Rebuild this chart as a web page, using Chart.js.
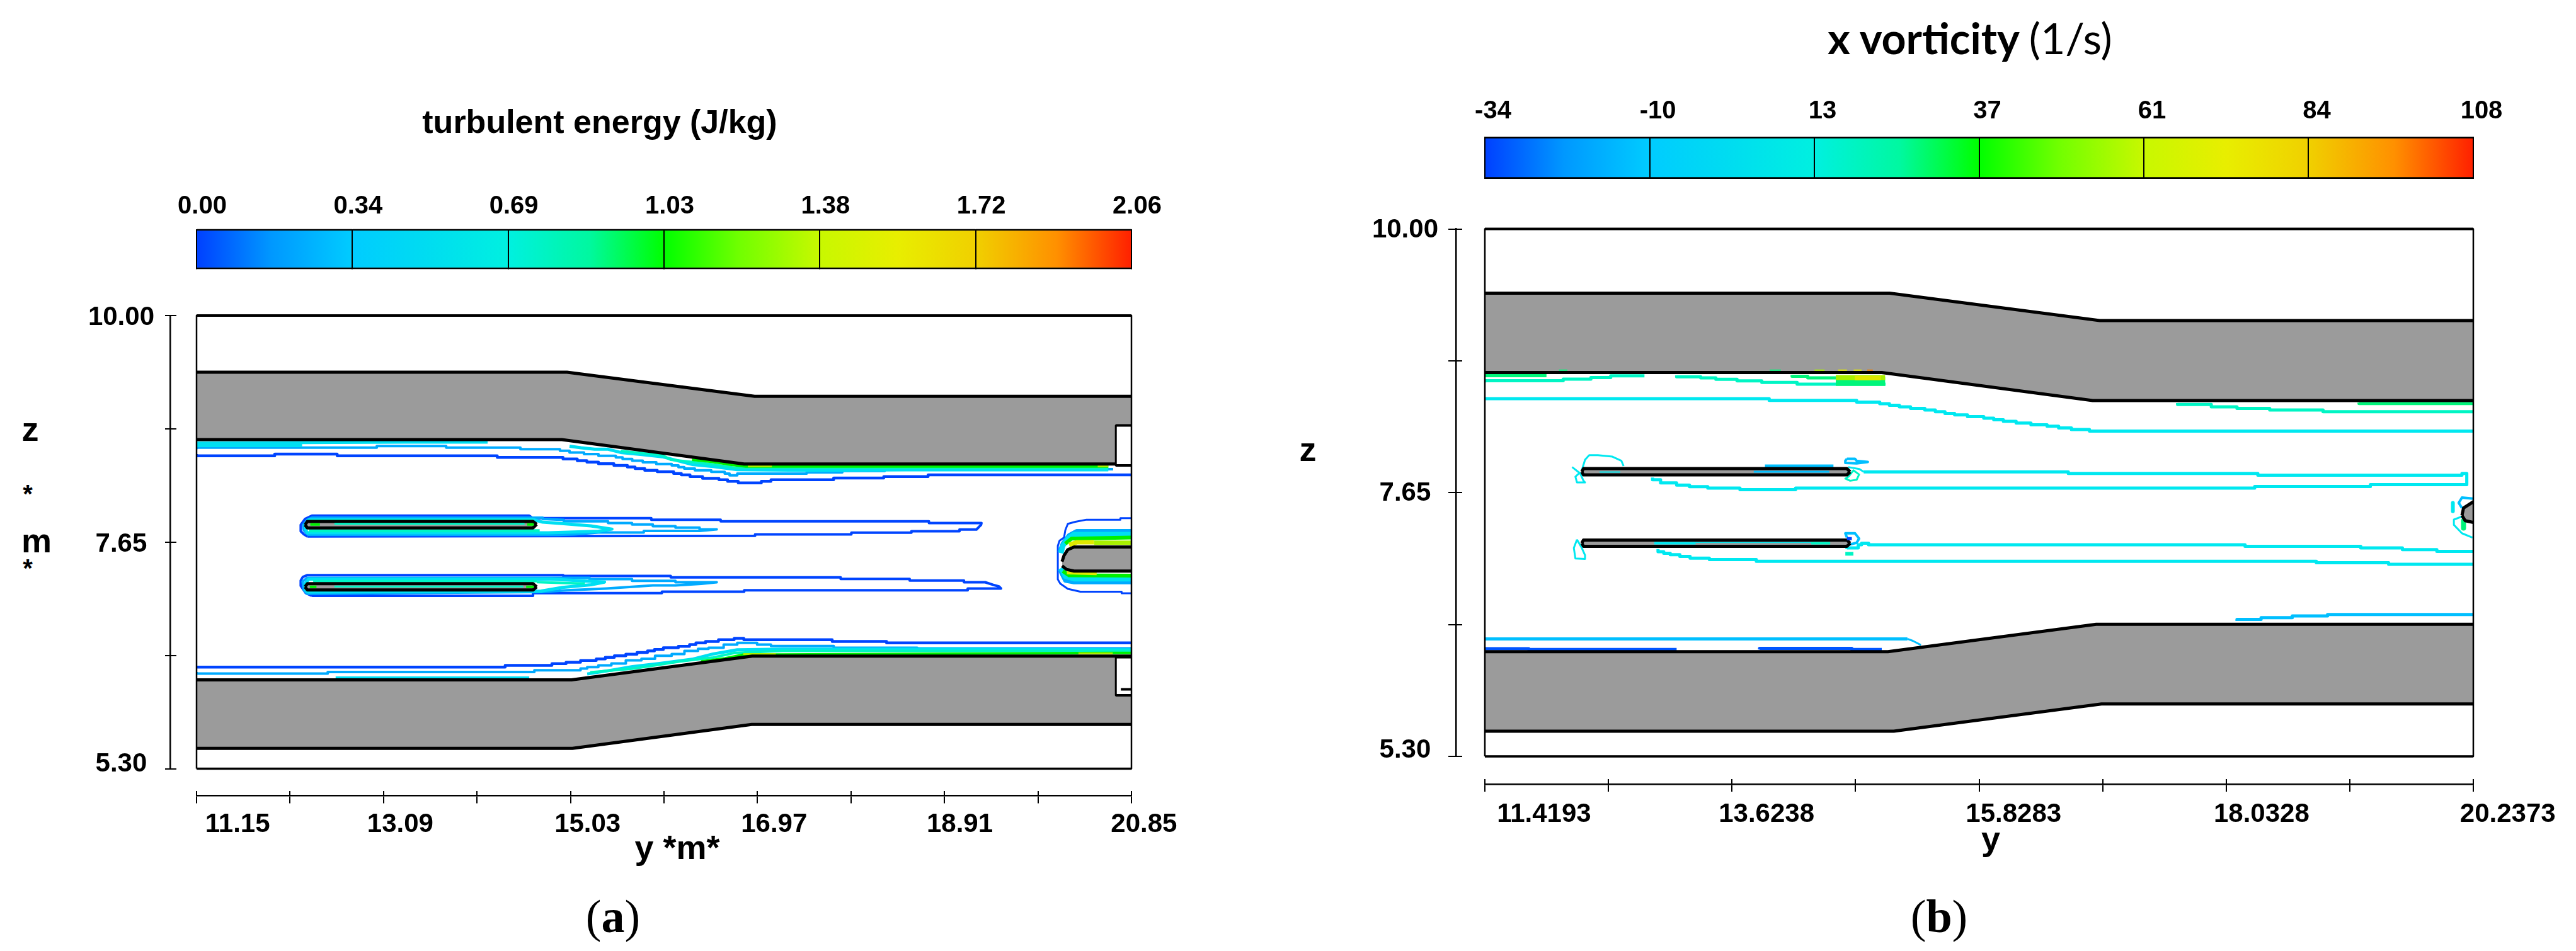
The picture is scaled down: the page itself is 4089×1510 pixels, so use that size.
<!DOCTYPE html>
<html>
<head>
<meta charset="utf-8">
<title>turbulent energy and x vorticity</title>
<script src="https://cdn.jsdelivr.net/npm/chart.js@4"></script>
<style>
  html, body { margin: 0; padding: 0; background: #fff; }
  body { position: relative; width: 4089px; height: 1510px; overflow: hidden; }
  canvas { position: absolute; }
  .t { position: absolute; transform: translate(-50%, -50%); white-space: nowrap; color: #000;
       font-family: "Liberation Sans", sans-serif; font-weight: bold; line-height: 1; }
  .cap { font-family: "Liberation Serif", serif; font-weight: normal; font-size: 74px; }
  .tb { font-family: Lato, sans-serif; font-size: 68px; }
  .tb span { font-weight: normal; }
</style>
</head>
<body>
<div class="t" style="left:952px;top:193px;font-size:52px">turbulent energy (J/kg)</div>
<div class="t tb" style="left:3127px;top:60px">x vorticity <span>(1/s)</span></div>
<div class="t" style="left:48px;top:681px;font-size:54px">z</div>
<div class="t" style="left:44px;top:784px;font-size:40px">*</div>
<div class="t" style="left:58px;top:858px;font-size:54px">m</div>
<div class="t" style="left:44px;top:902px;font-size:40px">*</div>
<div class="t" style="left:1075px;top:1345px;font-size:54px">y *m*</div>
<div class="t" style="left:2076px;top:713px;font-size:54px">z</div>
<div class="t" style="left:3160px;top:1331px;font-size:54px">y</div>
<div class="t cap" style="left:973px;top:1455px">(<b>a</b>)</div>
<div class="t cap" style="left:3078px;top:1455px">(<b>b</b>)</div>

<canvas id="barA" style="left:0;top:260px"></canvas>
<canvas id="plotA" style="left:0;top:440px"></canvas>
<canvas id="barB" style="left:2050px;top:100px"></canvas>
<canvas id="plotB" style="left:2050px;top:300px"></canvas>

<script>
// colour bars
const barTicksA = [0, 0.3433, 0.6867, 1.03, 1.3733, 1.7167, 2.06];
const barLabelsA = ['0.00', '0.34', '0.69', '1.03', '1.38', '1.72', '2.06'];
const barTicksB = [-34, -10.33, 13.33, 37, 60.67, 84.33, 108];
const barLabelsB = ['-34', '-10', '13', '37', '61', '84', '108'];

// panel a axes
const xTicksA = [11.15, 12.12, 13.09, 14.06, 15.03, 16.0, 16.97, 17.94, 18.91, 19.88, 20.85];
const xLabelAtA = [11.576, 13.264, 15.207, 17.142, 19.069, 20.98];
const xLabelsA = ['11.15', '13.09', '15.03', '16.97', '18.91', '20.85'];
const yTicks = [5.3, 6.475, 7.65, 8.825, 10];
const yLabelAtA = [5.35, 7.625, 9.978];
const yLabels = ['5.30', '7.65', '10.00'];

// panel a geometry
const aUpperTop = [[11.15, 9.412], [14.994, 9.412], [16.94, 9.163], [20.85, 9.163]];
const aUpperBottom = [[11.15, 8.713], [14.94, 8.713], [16.83, 8.46], [20.85, 8.46]];
const aLowerTop = [[11.15, 6.222], [15.04, 6.222], [16.916, 6.468], [20.85, 6.468]];
const aLowerBottom = [[11.15, 5.511], [15.05, 5.511], [16.91, 5.759], [20.85, 5.759]];
const aNotchUpTop = [[20.688, 8.861], [20.85, 8.861]];
const aNotchUpBottom = [[20.688, 8.446], [20.85, 8.446]];
const aNotchLowTop = [[20.688, 6.457], [20.85, 6.457]];
const aNotchLowBottom = [[20.688, 6.061], [20.85, 6.061]];
const aNotchStub = [[20.74, 6.124], [20.85, 6.124]];
const aSplitUpTop = [[12.275, 7.829], [12.3, 7.864], [14.641, 7.864], [14.679, 7.835]];
const aSplitUpBottom = [[12.275, 7.829], [12.3, 7.798], [14.641, 7.798], [14.679, 7.835]];
const aSplitLowTop = [[12.275, 7.186], [12.3, 7.219], [14.641, 7.219], [14.679, 7.186]];
const aSplitLowBottom = [[12.275, 7.186], [12.3, 7.154], [14.641, 7.154], [14.679, 7.186]];
const aBodyTop = [[20.13, 7.448], [20.151, 7.513], [20.19, 7.572], [20.255, 7.6], [20.85, 7.6]];
const aBodyBottom = [[20.13, 7.404], [20.177, 7.367], [20.255, 7.35], [20.85, 7.35]];

// panel a contours, upper wall
const aTopBlue = [[11.15, 8.563], [11.961, 8.545], [12.609, 8.563], [14.27, 8.545], [14.952, 8.528], [15.1, 8.513], [15.2, 8.495], [15.32, 8.48], [15.48, 8.463], [15.62, 8.445], [15.7, 8.43], [15.8, 8.413], [15.93, 8.395], [16.1, 8.38], [16.18, 8.362], [16.27, 8.347], [16.4, 8.33], [16.57, 8.312], [16.66, 8.297], [16.77, 8.28], [17.01, 8.264], [17.11, 8.28], [17.76, 8.297], [18.28, 8.315], [18.74, 8.33], [20.06, 8.347], [20.85, 8.347]];
const aTopSky = [[11.15, 8.613], [13.02, 8.63], [13.74, 8.646], [14.51, 8.63], [14.92, 8.613], [15.02, 8.598], [15.17, 8.58], [15.32, 8.563], [15.5, 8.545], [15.57, 8.528], [15.67, 8.513], [15.78, 8.495], [15.92, 8.478], [16.08, 8.46], [16.15, 8.445], [16.21, 8.428], [16.32, 8.413], [16.49, 8.395], [16.63, 8.378], [16.68, 8.36], [16.76, 8.343], [17.48, 8.36], [17.85, 8.373], [18.29, 8.388], [20.61, 8.406], [20.66, 8.406]];
const aTopCyan1 = [[11.15, 8.678], [13.31, 8.687], [14.17, 8.687]];
const aTopCyan2 = [[11.15, 8.652], [12.245, 8.652]];
const aTopCyan3 = [[15.02, 8.645], [15.14, 8.628], [15.28, 8.613], [15.42, 8.613], [15.55, 8.58], [15.77, 8.558], [15.98, 8.536], [16.29, 8.456], [16.51, 8.434], [16.76, 8.402], [17.48, 8.395], [18.51, 8.399], [20.61, 8.399]];
const aTopSpring = [[15.55, 8.595], [15.77, 8.573], [15.98, 8.552], [16.07, 8.504], [16.29, 8.482], [16.51, 8.456], [16.73, 8.421], [20.61, 8.417]];
const aTopGreen = [[16.29, 8.504], [16.51, 8.482], [16.67, 8.456], [16.85, 8.434], [20.61, 8.434]];
const aTopLime1 = [[16.87, 8.436], [17.12, 8.436]];
const aTopLime2 = [[20.5, 8.436], [20.61, 8.436]];

// panel a contours, lower wall
const aLowBlue = [[11.15, 6.339], [14.352, 6.354], [14.837, 6.372], [14.984, 6.389], [15.134, 6.405], [15.297, 6.422], [15.391, 6.439], [15.485, 6.455], [15.604, 6.472], [15.72, 6.487], [15.829, 6.505], [15.901, 6.522], [15.993, 6.537], [16.149, 6.555], [16.265, 6.57], [16.331, 6.587], [16.431, 6.605], [16.565, 6.62], [16.728, 6.638], [16.828, 6.653], [17.745, 6.638], [18.309, 6.62], [19.89, 6.605], [20.85, 6.605]];
const aLowSky = [[11.15, 6.304], [12.511, 6.287], [14.655, 6.304], [15.134, 6.322], [15.203, 6.339], [15.319, 6.354], [15.454, 6.372], [15.604, 6.391], [15.766, 6.424], [15.907, 6.44], [16.08, 6.472], [16.212, 6.49], [16.353, 6.522], [16.462, 6.544], [16.619, 6.555], [16.76, 6.587], [16.966, 6.605], [17.11, 6.587], [17.761, 6.572], [18.628, 6.555], [19.029, 6.548], [20.85, 6.548]];
const aLowCyan1 = [[12.593, 6.248], [14.602, 6.248]];
const aLowCyan2 = [[15.203, 6.283], [15.454, 6.322], [15.672, 6.359], [15.954, 6.391], [16.29, 6.435], [16.509, 6.49], [16.76, 6.533], [17.229, 6.54], [19.107, 6.54], [20.85, 6.533]];
const aLowSpring = [[15.234, 6.3], [15.672, 6.337], [15.892, 6.37], [16.165, 6.413], [16.509, 6.453], [16.728, 6.5], [17.229, 6.522], [20.85, 6.522]];
const aLowGreen = [[16.384, 6.413], [16.634, 6.446], [16.822, 6.483], [20.656, 6.5], [20.85, 6.5]];
const aLowLime1 = [[16.822, 6.49], [17.16, 6.49]];
const aLowLime2 = [[20.3, 6.496], [20.656, 6.496]];

// panel a contours, splitters
const aUpBlue = [[12.3, 7.709], [12.263, 7.731], [12.231, 7.763], [12.231, 7.829], [12.275, 7.89], [12.347, 7.925], [14.6, 7.925], [14.641, 7.898], [15.868, 7.898], [15.868, 7.883], [16.588, 7.883], [16.588, 7.866], [18.749, 7.866], [18.749, 7.848], [19.294, 7.848], [19.289, 7.829], [19.242, 7.781], [19.066, 7.781], [19.066, 7.763], [18.567, 7.763], [18.567, 7.748], [17.944, 7.748], [17.944, 7.731], [16.945, 7.731], [16.945, 7.716], [12.3, 7.709]];
const aUpSky = [[12.3, 7.731], [12.263, 7.774], [12.256, 7.829], [12.3, 7.883], [12.347, 7.903], [14.741, 7.903], [14.741, 7.89], [14.96, 7.881], [14.96, 7.866], [15.42, 7.866], [15.42, 7.848], [15.668, 7.848], [15.668, 7.833], [15.884, 7.833], [15.884, 7.816], [16.119, 7.816], [16.119, 7.8], [16.369, 7.8], [16.369, 7.783], [16.547, 7.783], [16.369, 7.766], [15.79, 7.766], [15.79, 7.75], [15.32, 7.75], [15.07, 7.731], [14.9, 7.726], [12.3, 7.726]];
const aUpCyan = [[12.284, 7.774], [12.275, 7.829], [12.316, 7.881], [14.641, 7.885], [14.741, 7.857], [14.96, 7.842], [15.24, 7.818], [15.46, 7.785], [15.32, 7.763], [14.8, 7.746], [12.3, 7.746], [12.284, 7.774]];
const aUpSpring1 = [[12.316, 7.877], [14.641, 7.877]];
const aUpSpring2 = [[12.316, 7.768], [14.71, 7.768]];
const aLoBlue = [[12.347, 7.093], [14.641, 7.093], [14.641, 7.121], [15.978, 7.121], [15.978, 7.136], [16.832, 7.136], [16.832, 7.151], [19.151, 7.151], [19.151, 7.169], [19.497, 7.169], [19.476, 7.191], [19.411, 7.208], [19.333, 7.234], [19.112, 7.234], [19.112, 7.252], [18.549, 7.252], [18.549, 7.269], [17.833, 7.269], [17.833, 7.284], [16.07, 7.284], [16.07, 7.3], [14.954, 7.3], [14.954, 7.308], [12.3, 7.308], [12.253, 7.289], [12.231, 7.252], [12.231, 7.197], [12.284, 7.121], [12.347, 7.093]];
const aLoSky = [[12.3, 7.11], [12.263, 7.154], [12.25, 7.241], [12.3, 7.28], [15.227, 7.28], [15.227, 7.267], [15.668, 7.267], [15.668, 7.249], [16.119, 7.249], [16.119, 7.234], [16.547, 7.234], [16.385, 7.217], [16.119, 7.202], [15.884, 7.202], [15.668, 7.186], [15.4, 7.169], [14.992, 7.151], [14.726, 7.132], [12.3, 7.114]];
const aLoCyan = [[12.284, 7.143], [12.275, 7.219], [12.316, 7.267], [14.82, 7.267], [15.383, 7.236], [15.242, 7.208], [14.945, 7.18], [14.726, 7.143], [12.316, 7.132], [12.284, 7.143]];
const aLoSpring1 = [[12.36, 7.245], [14.68, 7.245]];
const aLoSpring2 = [[14.68, 7.236], [15.18, 7.219]];
const aSplitInnerUp = [[12.58, 7.84], [14.553, 7.84]];
const aSplitInnerLow = [[12.58, 7.19], [14.54, 7.19]];
const aSplitEnds = [[[12.33, 7.833], [12.43, 7.833]], [[14.58, 7.833], [14.65, 7.833]], [[12.325, 7.186], [12.394, 7.186]], [[14.57, 7.186], [14.65, 7.186]]];

// panel a contours, centre body
const aBodyBlue = [[20.85, 7.898], [20.735, 7.898], [20.735, 7.883], [20.384, 7.883], [20.268, 7.861], [20.19, 7.84], [20.164, 7.774], [20.151, 7.698], [20.104, 7.665], [20.086, 7.611], [20.086, 7.263], [20.112, 7.219], [20.19, 7.165], [20.32, 7.136], [20.748, 7.136], [20.748, 7.119], [20.85, 7.119]];
const aBodySkyTop = [[20.85, 7.763], [20.281, 7.763], [20.203, 7.72], [20.138, 7.633], [20.104, 7.546]];
const aBodySkyBottom = [[20.104, 7.371], [20.164, 7.252], [20.255, 7.236], [20.85, 7.236]];
const aBodyCyanTop = [[20.85, 7.731], [20.255, 7.731], [20.19, 7.687], [20.138, 7.611], [20.12, 7.535]];
const aBodyCyanBottom = [[20.12, 7.382], [20.164, 7.295], [20.255, 7.269], [20.85, 7.269]];
const aBodyGreenTop = [[20.85, 7.698], [20.229, 7.687], [20.164, 7.633]];
const aBodyGreenBottom = [[20.138, 7.35], [20.203, 7.306], [20.85, 7.302]];
const aBodyLimeTop = [[20.462, 7.644], [20.85, 7.644]];
const aBodyYellowTop = [[20.203, 7.622], [20.281, 7.648], [20.462, 7.648]];
const aBodyYellowBottom = [[20.18, 7.332], [20.489, 7.323]];

// panel b axes
const xTicksB = [11.4193, 12.5216, 13.6238, 14.7261, 15.8283, 16.9306, 18.0328, 19.1351, 20.2373];
const xLabelAtB = [11.947, 13.932, 16.136, 18.348, 20.545];
const xLabelsB = ['11.4193', '13.6238', '15.8283', '18.0328', '20.2373'];
const yLabelAtB = [5.351, 7.643, 9.992];

// panel b geometry
const bUpperTop = [[11.4193, 9.427], [15.03, 9.427], [16.905, 9.184], [20.2373, 9.184]];
const bUpperBottom = [[11.4193, 8.72], [14.96, 8.72], [16.842, 8.471], [20.2373, 8.471]];
const bLowerTop = [[11.4193, 6.233], [15.015, 6.233], [16.873, 6.477], [20.2373, 6.477]];
const bLowerBottom = [[11.4193, 5.524], [15.067, 5.524], [16.92, 5.767], [20.2373, 5.767]];
const bSplitUpTop = [[12.284, 7.836], [12.299, 7.864], [14.649, 7.864], [14.678, 7.836]];
const bSplitUpBottom = [[12.284, 7.836], [12.299, 7.808], [14.649, 7.808], [14.678, 7.836]];
const bSplitLowTop = [[12.284, 7.2], [12.299, 7.228], [14.649, 7.228], [14.678, 7.2]];
const bSplitLowBottom = [[12.284, 7.2], [12.299, 7.172], [14.649, 7.172], [14.678, 7.2]];
const bNoseTop = [[20.136, 7.447], [20.15, 7.513], [20.2373, 7.569]];
const bNoseBottom = [[20.136, 7.447], [20.165, 7.4], [20.2373, 7.385]];

// panel b contours
const bCyanTop = [[11.418, 8.502], [13.956, 8.487], [14.736, 8.472], [14.942, 8.457], [15.028, 8.443], [15.117, 8.429], [15.217, 8.414], [15.344, 8.401], [15.438, 8.386], [15.524, 8.371], [15.61, 8.356], [15.725, 8.343], [15.87, 8.328], [15.959, 8.313], [16.045, 8.3], [16.159, 8.285], [16.291, 8.27], [16.435, 8.255], [16.538, 8.242], [16.652, 8.227], [16.813, 8.212], [17.364, 8.199], [20.2373, 8.199]];
const bSpringLeft = [[11.418, 8.632], [12.118, 8.647], [12.365, 8.661], [12.542, 8.676], [12.657, 8.691], [12.843, 8.691]];
const bSpringRight = [[13.13, 8.695], [13.345, 8.682], [13.48, 8.673], [13.669, 8.66], [13.89, 8.646], [14.205, 8.632], [14.549, 8.617], [14.994, 8.617]];
const bGreenTop1 = [[11.418, 8.68], [11.539, 8.692], [11.969, 8.692]];
const bGreenTop2 = [[14.16, 8.7], [14.3, 8.687], [14.5, 8.673], [14.9, 8.673]];
const bBlobGreen = [[14.55, 8.64], [14.99, 8.64]];
const bBlobLime = [[14.55, 8.675], [14.99, 8.675]];
const bBlobYellow = [[14.72, 8.672], [14.95, 8.672]];
const bWallMarkGreen = [[[12.08, 8.742], [12.155, 8.742]], [[13.96, 8.742], [14.06, 8.742]]];
const bWallMarkLime = [[14.36, 8.742], [14.45, 8.742]];
const bWallMarkYellow = [[[14.57, 8.742], [14.65, 8.742]], [[14.71, 8.742], [14.78, 8.742]]];
const bWallMarkOrange = [[14.83, 8.742], [14.88, 8.742]];
const bUpArc = [[12.284, 7.849], [12.313, 7.943], [12.35, 7.984], [12.428, 7.984], [12.557, 7.971], [12.637, 7.934], [12.657, 7.887]];
const bUpHook = [[12.198, 7.878], [12.27, 7.821], [12.299, 7.756], [12.313, 7.741], [12.241, 7.741], [12.227, 7.793], [12.27, 7.831]];
const bUpWake = [[12.915, 7.784], [12.987, 7.765], [13.13, 7.737], [13.245, 7.718], [13.408, 7.703], [13.695, 7.69], [14.191, 7.677], [18.287, 7.69], [19.319, 7.705], [19.984, 7.722], [20.179, 7.722], [20.136, 7.821], [18.315, 7.806], [16.624, 7.821], [15.524, 7.835], [14.799, 7.835]];
const bUpSkyLoop = [[14.649, 7.952], [14.721, 7.952], [14.736, 7.934], [14.836, 7.924], [14.736, 7.911], [14.635, 7.915], [14.635, 7.934], [14.649, 7.952]];
const bUpSpringLoop = [[14.664, 7.793], [14.707, 7.849], [14.758, 7.812], [14.736, 7.765], [14.678, 7.756], [14.635, 7.775], [14.664, 7.793]];
const bUpSkyWall = [[13.918, 7.885], [14.529, 7.885]];
const bUpSkyInner = [[13.818, 7.837], [14.492, 7.837]];
const bUpCyanInner = [[12.442, 7.834], [12.628, 7.834]];
const bUpLink = [[14.66, 7.878], [14.76, 7.86], [14.8, 7.835]];
const bLoHook = [[12.241, 7.232], [12.213, 7.157], [12.227, 7.063], [12.313, 7.06], [12.313, 7.092], [12.284, 7.157], [12.241, 7.232]];
const bLoSkyLoop = [[14.649, 7.251], [14.635, 7.288], [14.721, 7.288], [14.758, 7.241], [14.736, 7.204], [14.664, 7.185]];
const bLoBlueSpeck = [[14.649, 7.241], [14.693, 7.241]];
const bLoWakeTop = [[14.649, 7.148], [14.75, 7.157], [14.78, 7.185], [14.842, 7.2], [18.201, 7.185], [19.233, 7.172], [19.605, 7.157], [19.912, 7.142], [20.084, 7.127], [20.2373, 7.127]];
const bLoWakeBottom = [[12.964, 7.148], [13.015, 7.124], [13.073, 7.11], [13.159, 7.097], [13.25, 7.082], [13.422, 7.067], [13.841, 7.054], [18.837, 7.039], [19.482, 7.026], [19.855, 7.011], [20.2373, 7.011]];
const bLoSpringSpot = [[14.635, 7.105], [14.707, 7.105]];
const bLoCyanInner = [[12.93, 7.2], [13.3, 7.2]];
const bLoCyanThin = [[13.3, 7.205], [14.33, 7.205]];
const bLoSpringInner = [[14.33, 7.2], [14.5, 7.2]];
const bSkyBottom = [[11.418, 6.332], [14.649, 6.347], [15.189, 6.347]];
const bSkyBottomEnd = [[15.189, 6.347], [15.237, 6.33], [15.309, 6.293]];
const bBlueBottom1 = [[11.418, 6.274], [11.811, 6.259], [12.436, 6.252], [13.13, 6.252]];
const bBlueBottom2 = [[13.87, 6.252], [14.693, 6.263], [14.873, 6.252], [14.96, 6.252]];
const bSpringRightTop = [[17.599, 8.448], [17.9, 8.435], [18.129, 8.414], [18.421, 8.401], [18.897, 8.386], [19.648, 8.371], [20.2373, 8.371]];
const bGreenRightTop = [[19.218, 8.452], [19.591, 8.444], [20.2373, 8.444]];
const bSkyRight = [[18.129, 6.506], [18.344, 6.521], [18.622, 6.536], [18.937, 6.551], [19.419, 6.564], [20.2373, 6.564]];
const bNoseSky = [[20.237, 7.597], [20.136, 7.606], [20.107, 7.559], [20.136, 7.513]];
const bNoseCyanSpot = [[20.055, 7.559], [20.055, 7.484]];
const bNoseCyan = [[20.136, 7.438], [20.064, 7.41], [20.064, 7.363], [20.136, 7.288], [20.23, 7.25]];
const bNoseGreen = [[20.15, 7.4], [20.15, 7.335]];

const BLUE = '#0044ff', SKY = '#00aaff', SKY2 = '#00bfff', CYAN = '#00dff2', CYAN2 = '#00e8f0';
const SPRING = '#00f5c4', GREEN = '#00f000', MINT = '#00f57a', LIME = '#a8f000', YELLOW = '#e0e800', ORANGE = '#f08000';
const GREY = '#9b9b9b';
const rainbow = [[0, '#0040ff'], [0.08, '#0098ff'], [1 / 6, '#00ccff'], [0.25, '#00ddf0'], [1 / 3, '#00f0e0'],
  [0.42, '#00f8a0'], [0.5, '#00ff00'], [0.58, '#70ff00'], [2 / 3, '#c8f800'], [0.75, '#e8ee00'],
  [5 / 6, '#f0d000'], [0.92, '#ff9000'], [1, '#ff2000']];

Chart.defaults.font.family = '"Liberation Sans", sans-serif';
Chart.defaults.font.weight = 'bold';

function colorBar(id, w, h, padLeft, padRight, scaleH, padBottom, ticks, labels, shift, labelPad) {
  const canvas = document.getElementById(id);
  canvas.width = w;
  canvas.height = h;
  const fillBar = c => {
    const a = c.chart.chartArea;
    if (!a) return '#000';
    const g = c.chart.ctx.createLinearGradient(a.left, 0, a.right, 0);
    rainbow.forEach(s => g.addColorStop(s[0], s[1]));
    return g;
  };
  new Chart(canvas, {
    type: 'bar',
    data: {
      labels: [''],
      datasets: ticks.slice(1).map((t, i) => ({
        data: [[ticks[i], t]],
        backgroundColor: fillBar,
        borderColor: '#000',
        borderWidth: { top: 3, bottom: 3, left: 0, right: 0 },
        borderSkipped: false,
        barPercentage: 1,
        categoryPercentage: 1,
        grouped: false
      }))
    },
    options: {
      indexAxis: 'y',
      responsive: false,
      animation: false,
      devicePixelRatio: 1,
      layout: { padding: { left: padLeft, right: padRight, top: 0, bottom: padBottom } },
      plugins: { legend: { display: false }, tooltip: { enabled: false } },
      scales: {
        y: { display: false },
        x: {
          type: 'linear',
          position: 'top',
          min: ticks[0],
          max: ticks[ticks.length - 1],
          afterBuildTicks: s => { s.ticks = ticks.map(v => ({ value: v })); },
          afterFit: s => { s.height = scaleH; },
          border: { display: false },
          grid: { z: 1, color: '#000', lineWidth: 2, drawTicks: false },
          ticks: {
            autoSkip: false, maxRotation: 0, color: '#000', padding: labelPad, labelOffset: shift,
            font: { size: 40, weight: 'bold' },
            callback: (v, i) => labels[i]
          }
        }
      }
    }
  });
}

function plot(id, c) {
  const canvas = document.getElementById(id);
  canvas.width = c.w;
  canvas.height = c.h;
  const [x0, x1] = c.xRange, [y0, y1] = c.yRange;
  const size = (axis, n) => s => { if (axis === 'x') s.height = n; else s.width = n; };
  const blank = (axis, min, max, n, weight) => ({
    type: 'linear', min, max, weight, display: true,
    position: axis === 'x' ? 'bottom' : 'left',
    grid: { display: false }, border: { display: false }, ticks: { display: false },
    afterFit: size(axis, n)
  });
  const ticker = (axis, min, max, n, weight, vals, line) => Object.assign(blank(axis, min, max, n, weight), {
    grid: { display: true, drawOnChartArea: false, color: '#000', lineWidth: 2, tickLength: n },
    border: { display: line, color: '#000', width: 2.5 },
    ticks: { display: false, autoSkip: false },
    afterBuildTicks: s => { s.ticks = vals.map(v => ({ value: v })); }
  });
  const labeler = (axis, min, max, n, weight, at, labels, extra) => Object.assign(blank(axis, min, max, n, weight), {
    ticks: Object.assign({
      display: true, autoSkip: false, maxRotation: 0, color: '#000',
      font: { size: 42, weight: 'bold' }, callback: (v, i) => labels[i]
    }, extra),
    afterBuildTicks: s => { s.ticks = at.map(v => ({ value: v })); }
  });
  const list = c.datasets;
  list.forEach((d, i) => { d.order = list.length - i; });
  new Chart(canvas, {
    type: 'scatter',
    data: { datasets: list },
    options: {
      responsive: false,
      animation: false,
      devicePixelRatio: 1,
      layout: { padding: c.pad },
      plugins: { legend: { display: false }, tooltip: { enabled: false } },
      scales: {
        x: blank('x', x0, x1, c.xGaps[0], 1),
        xIn: ticker('x', x0, x1, c.xGaps[1], 2, c.xTicks, false),
        xOut: ticker('x', x0, x1, c.xGaps[2], 3, c.xTicks, true),
        xLab: labeler('x', x0, x1, c.xGaps[3], 4, c.xLabelAt, c.xLabels, { padding: c.xPad }),
        y: blank('y', y0, y1, c.yGaps[0], 1),
        yIn: ticker('y', y0, y1, c.yGaps[1], 2, yTicks, false),
        yOut: ticker('y', y0, y1, c.yGaps[2], 3, yTicks, true),
        yLab: labeler('y', y0, y1, c.yGaps[3], 4, c.yLabelAt, yLabels, { padding: c.yPad, crossAlign: 'center' })
      }
    }
  });
}

function line(pts, color, width, stepped) {
  return {
    data: pts, showLine: true, borderColor: color, borderWidth: width, pointRadius: 0,
    fill: false, stepped: stepped ? 'after' : false, borderJoinStyle: 'round'
  };
}
// filled region between two outlines, the fill is painted with the first one
function band(top, bottom, color, width) {
  const a = line(top, '#000', width);
  a.fill = '+1';
  a.backgroundColor = color;
  return [a, line(bottom, '#000', width)];
}
function frame(x0, x1, y0, y1) {
  const box = line([[x0, y0], [x0, y1], [x1, y1], [x1, y0], [x0, y0]], '#000', 2.5);
  const topEdge = line([[x0, y1], [x1, y1]], '#000', 4);
  const bottomEdge = line([[x0, y0], [x1, y0]], '#000', 3.5);
  [box, topEdge, bottomEdge].forEach(d => { d.clip = false; });
  return [box, topEdge, bottomEdge];
}

colorBar('barA', 2000, 200, 312, 204, 103.5, 32.5, barTicksA, barLabelsA, 9, 12);
colorBar('barB', 2039, 240, 307, 163, 117, 56, barTicksB, barLabelsB, 13, 16);

plot('plotA', {
  w: 2000, h: 1000,
  xRange: [11.15, 20.85], yRange: [5.3, 10],
  xTicks: xTicksA, xLabelAt: xLabelAtA, xLabels: xLabelsA, yLabelAt: yLabelAtA,
  pad: { left: 0, right: 204, top: 61, bottom: 64.4 },
  xGaps: [35, 8, 12, 100], yGaps: [32, 10, 8, 262],
  xPad: 1, yPad: 9,
  datasets: [
    line(aTopBlue, BLUE, 4.5, true), line(aLowBlue, BLUE, 4.5, true),
    line(aTopSky, SKY, 4, true), line(aLowSky, SKY, 4, true),
    line(aTopCyan1, CYAN, 5), line(aTopCyan2, CYAN, 5), line(aTopCyan3, CYAN, 5),
    line(aLowCyan1, CYAN, 3), line(aLowCyan2, CYAN, 5),
    line(aTopSpring, SPRING, 4), line(aLowSpring, SPRING, 4),
    line(aTopGreen, GREEN, 4), line(aLowGreen, GREEN, 4),
    line(aTopLime1, LIME, 3), line(aTopLime2, LIME, 3), line(aLowLime1, LIME, 3), line(aLowLime2, LIME, 3),
    line(aUpBlue, BLUE, 4), line(aLoBlue, BLUE, 4),
    line(aUpSky, SKY, 4), line(aLoSky, SKY, 4),
    line(aUpCyan, CYAN, 5), line(aLoCyan, CYAN, 5),
    line(aUpSpring1, SPRING, 3), line(aUpSpring2, SPRING, 5),
    line(aLoSpring1, SPRING, 4), line(aLoSpring2, SPRING, 4),
    line(aBodyBlue, BLUE, 3),
    line(aBodySkyTop, SKY, 7), line(aBodySkyBottom, SKY, 7),
    line(aBodyCyanTop, CYAN, 8), line(aBodyCyanBottom, CYAN, 8),
    line(aBodyGreenTop, GREEN, 6), line(aBodyGreenBottom, GREEN, 6),
    line(aBodyLimeTop, LIME, 7), line(aBodyYellowTop, YELLOW, 7), line(aBodyYellowBottom, YELLOW, 5),
    ...band(aUpperTop, aUpperBottom, GREY, 5),
    ...band(aLowerTop, aLowerBottom, GREY, 5),
    ...band(aNotchUpTop, aNotchUpBottom, '#fff', 4),
    ...band(aNotchLowTop, aNotchLowBottom, '#fff', 4),
    line([aNotchUpTop[0], aNotchUpBottom[0]], '#000', 3),
    line([aNotchLowTop[0], aNotchLowBottom[0]], '#000', 3),
    line(aNotchStub, '#000', 4),
    ...band(aSplitUpTop, aSplitUpBottom, GREY, 5),
    ...band(aSplitLowTop, aSplitLowBottom, GREY, 5),
    line(aSplitInnerUp, SPRING, 3), line(aSplitInnerLow, SPRING, 3),
    ...aSplitEnds.map(p => line(p, GREEN, 4)),
    ...band(aBodyTop, aBodyBottom, GREY, 5),
    ...frame(11.15, 20.85, 5.3, 10)
  ]
});

plot('plotB', {
  w: 2039, h: 1100,
  xRange: [11.4193, 20.2373], yRange: [5.3, 10],
  xTicks: xTicksB, xLabelAt: xLabelAtB, xLabels: xLabelsB, yLabelAt: yLabelAtB,
  pad: { left: 0, right: 163, top: 63.5, bottom: 43 },
  xGaps: [35.5, 8.5, 12, 100], yGaps: [36, 10, 12, 249],
  xPad: 3, yPad: 8,
  datasets: [
    line(bCyanTop, CYAN2, 5, true),
    line(bSpringLeft, SPRING, 5, true), line(bSpringRight, SPRING, 5, true),
    line(bGreenTop1, MINT, 5, true), line(bGreenTop2, MINT, 5, true),
    line(bBlobGreen, MINT, 14), line(bBlobLime, LIME, 8), line(bBlobYellow, YELLOW, 7),
    line(bUpArc, CYAN2, 3), line(bUpHook, CYAN2, 3), line(bUpWake, CYAN2, 5, true),
    line(bUpSkyLoop, SKY2, 4), line(bUpSpringLoop, SPRING, 3), line(bUpLink, CYAN2, 3),
    line(bUpSkyWall, SKY2, 6),
    line(bLoHook, CYAN2, 3), line(bLoSkyLoop, SKY2, 4), line(bLoWakeTop, CYAN2, 5, true), line(bLoWakeBottom, CYAN2, 5, true),
    line(bLoSpringSpot, SPRING, 6),
    line(bSkyBottom, SKY2, 5, true), line(bSkyBottomEnd, SKY2, 3),
    line(bBlueBottom1, '#0055ff', 5, true), line(bBlueBottom2, '#0055ff', 5, true),
    line(bSpringRightTop, SPRING, 5, true), line(bGreenRightTop, MINT, 5, true),
    line(bSkyRight, SKY2, 5, true),
    line(bNoseSky, SKY2, 4), line(bNoseCyanSpot, CYAN2, 6), line(bNoseCyan, CYAN2, 3),
    line(bNoseGreen, MINT, 8),
    ...band(bUpperTop, bUpperBottom, GREY, 5),
    ...band(bLowerTop, bLowerBottom, GREY, 5),
    ...bWallMarkGreen.map(p => line(p, MINT, 2)),
    line(bWallMarkLime, LIME, 2), ...bWallMarkYellow.map(p => line(p, YELLOW, 2)), line(bWallMarkOrange, ORANGE, 2),
    ...band(bSplitUpTop, bSplitUpBottom, GREY, 5),
    ...band(bSplitLowTop, bSplitLowBottom, GREY, 5),
    line(bUpSkyInner, SKY2, 3), line(bUpCyanInner, CYAN2, 2),
    line(bLoCyanInner, CYAN2, 4), line(bLoCyanThin, CYAN2, 1.5), line(bLoSpringInner, SPRING, 4),
    line(bLoBlueSpeck, BLUE, 5),
    ...band(bNoseTop, bNoseBottom, GREY, 5),
    ...frame(11.4193, 20.2373, 5.3, 10)
  ]
});
</script>
</body>
</html>
